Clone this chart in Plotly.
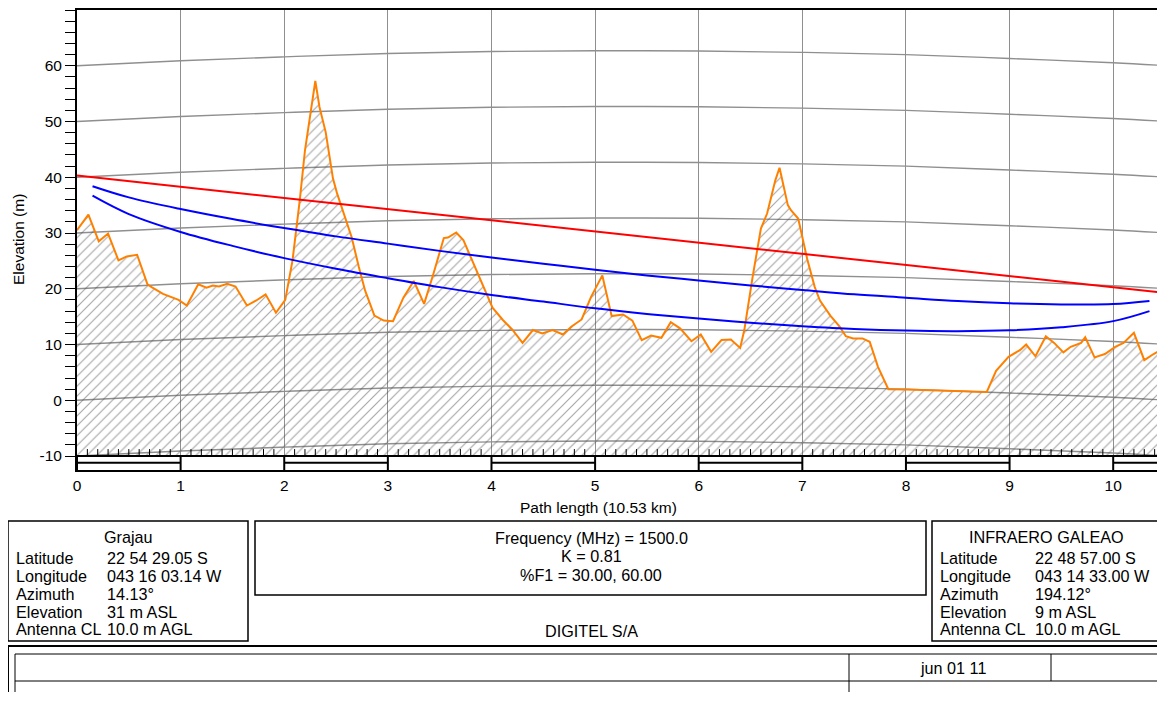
import plotly.graph_objects as go

# ---------------- data ----------------
terrain_km = [0.00, 0.11, 0.21, 0.30, 0.40, 0.48, 0.58, 0.68, 0.72, 0.83, 0.98, 1.06, 1.17, 1.25,
              1.31, 1.37, 1.45, 1.53, 1.64, 1.73, 1.82, 1.92, 2.01, 2.08, 2.15, 2.20, 2.30, 2.34,
              2.40, 2.47, 2.51, 2.65, 2.72, 2.78, 2.87, 2.96, 3.05, 3.15, 3.25, 3.35, 3.44, 3.54,
              3.58, 3.66, 3.73, 3.84, 3.93, 4.01, 4.11, 4.20, 4.30, 4.40, 4.49, 4.59, 4.69, 4.77,
              4.87, 4.96, 5.07, 5.11, 5.16, 5.27, 5.36, 5.45, 5.54, 5.64, 5.73, 5.82, 5.93, 6.02,
              6.12, 6.22, 6.31, 6.40, 6.44, 6.52, 6.60, 6.66, 6.74, 6.78, 6.86, 6.89, 6.96, 7.05,
              7.12, 7.17, 7.27, 7.36, 7.42, 7.49, 7.58, 7.65, 7.73, 7.83, 8.00, 8.78, 8.87, 8.99,
              9.10, 9.16, 9.25, 9.35, 9.43, 9.52, 9.59, 9.69, 9.73, 9.82, 9.92, 10.02, 10.10,
              10.20, 10.30, 10.39, 10.49, 10.53]
terrain_m = [30.5, 33.3, 28.5, 29.9, 25.1, 25.8, 26.1, 20.8, 20.3, 19.1, 18.0, 17.0, 20.8, 20.2,
             20.6, 20.4, 20.9, 20.4, 17.0, 17.9, 19.0, 15.7, 18.0, 25.1, 35.9, 44.8, 57.3, 52.6,
             48.1, 39.8, 37.1, 29.3, 23.9, 19.7, 15.2, 14.3, 14.2, 18.4, 21.4, 17.3, 22.7, 29.1,
             29.2, 30.1, 28.7, 23.9, 20.3, 16.6, 14.4, 12.7, 10.3, 12.6, 12.0, 12.6, 11.8, 13.2,
             14.5, 18.5, 22.4, 19.1, 15.1, 15.4, 14.3, 10.8, 11.6, 11.2, 14.0, 12.9, 10.6, 11.8,
             8.7, 10.8, 10.9, 9.4, 12.6, 22.1, 30.8, 33.5, 39.5, 41.7, 35.0, 34.1, 32.6, 25.1,
             20.3, 17.9, 15.2, 13.2, 11.5, 11.1, 11.1, 10.5, 6.0, 2.0, 1.95, 1.5, 5.3, 7.8,
             9.0, 10.0, 7.9, 11.5, 10.3, 8.6, 9.6, 10.3, 11.3, 7.7, 8.3, 9.6, 10.3,
             12.1, 7.2, 8.3, 9.3, 9.5]

los_km = [0.0, 10.53]
los_m = [40.3, 19.2]

fresnel_km = [0.15, 0.5, 1, 1.5, 2, 2.5, 3, 3.5, 4, 4.5, 5, 5.5, 6, 6.5, 7, 7.5, 8, 8.5, 9,
              9.5, 10, 10.35]
fresnel30_m = [38.4, 36.4, 34.3, 32.5, 30.9, 29.4, 28.1, 26.8, 25.6, 24.5, 23.4, 22.4, 21.5,
               20.6, 19.8, 19.0, 18.4, 17.8, 17.4, 17.2, 17.25, 17.8]
fresnel60_m = [36.7, 33.4, 30.2, 27.7, 25.5, 23.6, 21.9, 20.3, 18.9, 17.7, 16.5, 15.5, 14.65,
               13.9, 13.3, 12.8, 12.5, 12.4, 12.55, 13.1, 14.2, 16.0]

# earth-curvature grid bulge (m)
grid_km = [0, 1, 2, 3, 4, 5, 6, 7, 8, 9, 10, 10.53]
grid_bulge = [0.0, 0.9, 1.6, 2.2, 2.55, 2.7, 2.65, 2.4, 2.0, 1.3, 0.55, 0.0]
grid_levels = [-10, 0, 10, 20, 30, 40, 50, 60]

y_ticks = [-10, 0, 10, 20, 30, 40, 50, 60]
y_ticktext = ["-10", "0", "10", "20", "30", "40", "50", "60"]
x_ticks = [0, 1, 2, 3, 4, 5, 6, 7, 8, 9, 10]
path_len = 10.53

site_a = ["Grajau", ("Latitude", "22 54 29.05 S"), ("Longitude", "043 16 03.14 W"),
          ("Azimuth", "14.13°"), ("Elevation", "31 m ASL"), ("Antenna CL", "10.0 m AGL")]
site_b = ["INFRAERO GALEAO", ("Latitude", "22 48 57.00 S"), ("Longitude", "043 14 33.00 W"),
          ("Azimuth", "194.12°"), ("Elevation", "9 m ASL"), ("Antenna CL", "10.0 m AGL")]
center_lines = ["Frequency (MHz) = 1500.0", "K = 0.81", "%F1 = 30.00, 60.00"]
company = "DIGITEL S/A"
date_txt = "jun 01 11"

# ---------------- figure ----------------
OFF = 8                      # page body margin
W, H = 1165 - OFF, 684
PL, PR, PT, PB = 77, 1165, 10, 470   # plot area in page pixels
FONT = "Arial, Liberation Sans, sans-serif"
FS = 15.5
FB = 16.2
Y0, Y1 = -12.5, 70


def px(x):
    return (x - PL) / (PR - PL)


def py(y):
    return (PB - y) / (PB - PT)


fig = go.Figure()

# curved grid lines
for lv in grid_levels:
    fig.add_trace(go.Scatter(x=grid_km, y=[lv + b for b in grid_bulge], mode="lines",
                             line=dict(color="#8f8f8f", width=1.4, shape="spline"),
                             hoverinfo="skip", showlegend=False))

# terrain baseline + hatched terrain
fig.add_trace(go.Scatter(x=[0, path_len], y=[-10, -10], mode="lines",
                         line=dict(width=0), hoverinfo="skip", showlegend=False))
fig.add_trace(go.Scatter(x=terrain_km, y=terrain_m, mode="lines", fill="tonexty",
                         fillcolor="rgba(0,0,0,0)",
                         fillpattern=dict(shape="/", fgcolor="#4a4a4a", bgcolor="rgba(0,0,0,0)",
                                          size=7, solidity=0.16),
                         line=dict(color="#ff8000", width=2), showlegend=False))

# line of sight and fresnel clearances
fig.add_trace(go.Scatter(x=los_km, y=los_m, mode="lines",
                         line=dict(color="#ff0000", width=2), showlegend=False))
fig.add_trace(go.Scatter(x=fresnel_km, y=fresnel30_m, mode="lines",
                         line=dict(color="#0000ff", width=2, shape="spline"), showlegend=False))
fig.add_trace(go.Scatter(x=fresnel_km, y=fresnel60_m, mode="lines",
                         line=dict(color="#0000ff", width=2, shape="spline"), showlegend=False))

# small distance ticks above the scale bar (every 0.1 km)
tx, ty = [], []
for i in range(1, 106):
    if i % 10 == 0:
        continue
    v = i / 10
    tx += [v, v, None]
    ty += [-10, -8.75, None]
fig.add_trace(go.Scatter(x=tx, y=ty, mode="lines", line=dict(color="black", width=1),
                         hoverinfo="skip", showlegend=False))

shapes = []
# scale bar
shapes.append(dict(type="line", xref="x", yref="y", x0=0, x1=path_len, y0=-10, y1=-10,
                   line=dict(color="black", width=2)))
for k in range(0, 11):
    shapes.append(dict(type="line", xref="x", yref="y", x0=k, x1=k, y0=Y0, y1=-10,
                       line=dict(color="black", width=2)))
    if k % 2 == 0:
        shapes.append(dict(type="line", xref="x", yref="y", x0=k, x1=min(k + 1, path_len),
                           y0=-11.2, y1=-11.2, line=dict(color="black", width=2)))


def rect(x0, y0, x1, y1, w=1.5):
    shapes.append(dict(type="rect", xref="paper", yref="paper", x0=px(x0), x1=px(x1),
                       y0=py(y0), y1=py(y1), line=dict(color="black", width=w)))


def hline(x0, x1, y, w=1):
    shapes.append(dict(type="line", xref="paper", yref="paper", x0=px(x0), x1=px(x1),
                       y0=py(y), y1=py(y), line=dict(color="black", width=w)))


def vline(x, y0, y1, w=1):
    shapes.append(dict(type="line", xref="paper", yref="paper", x0=px(x), x1=px(x),
                       y0=py(y0), y1=py(y1), line=dict(color="black", width=w)))


rect(8, 521, 248, 641)
rect(255, 521, 926, 595)
rect(932, 521, 1180, 641)
rect(8, 646, 1180, 716, 2)
rect(15, 654, 1180, 707, 1)
hline(15, 1180, 681)
vline(849, 654, 707)
vline(1051, 654, 681)

annotations = []


def text(x, y, s, anchor="left", size=FB):
    annotations.append(dict(x=px(x), y=py(y), xref="paper", yref="paper", text=s,
                            showarrow=False, xanchor=anchor, yanchor="middle",
                            font=dict(family=FONT, size=size, color="black")))


rows_y = [558, 576, 594, 612, 629]
text(128, 537, site_a[0], "center")
for (lab, val), yy in zip(site_a[1:], rows_y):
    text(14, yy, lab)
    text(105, yy, val)
text(1046, 537, site_b[0], "center")
for (lab, val), yy in zip(site_b[1:], rows_y):
    text(938, yy, lab)
    text(1033, yy, val)
for s, yy in zip(center_lines, [538, 556, 575]):
    text(591, yy, s, "center")
text(591, 631, company, "center")
text(953, 668, date_txt, "center")
text(598, 507, "Path length (%.2f km)" % path_len, "center", FS)
annotations.append(dict(x=px(18), y=py(240), xref="paper", yref="paper", text="Elevation (m)",
                        textangle=-90, showarrow=False, xanchor="center", yanchor="middle",
                        font=dict(family=FONT, size=FS, color="black")))

fig.update_layout(
    width=W, height=H,
    margin=dict(l=PL - OFF, r=1165 - PR, t=PT - OFF, b=(H + OFF) - PB),
    paper_bgcolor="white", plot_bgcolor="white",
    shapes=shapes, annotations=annotations, showlegend=False,
    font=dict(family=FONT, size=FS, color="black"),
)
fig.update_xaxes(range=[0, 10.5], tickvals=x_ticks, ticks="", showgrid=True,
                 gridcolor="#8f8f8f", gridwidth=1.4, zeroline=False, showline=True,
                 linecolor="black", linewidth=2, mirror=True,
                 tickfont=dict(family=FONT, size=FS))
fig.update_yaxes(range=[Y0, Y1], tickvals=y_ticks, ticktext=y_ticktext, ticks="outside",
                 ticklen=10, tickwidth=1.3, tickcolor="black", showgrid=False, zeroline=False,
                 showline=True, linecolor="black", linewidth=2, mirror=False,
                 tickfont=dict(family=FONT, size=FS),
                 minor=dict(tickvals=list(range(-8, 71, 2)), ticks="outside", ticklen=10,
                            tickwidth=1.3, tickcolor="black", showgrid=False))

fig.write_html("out.html")
